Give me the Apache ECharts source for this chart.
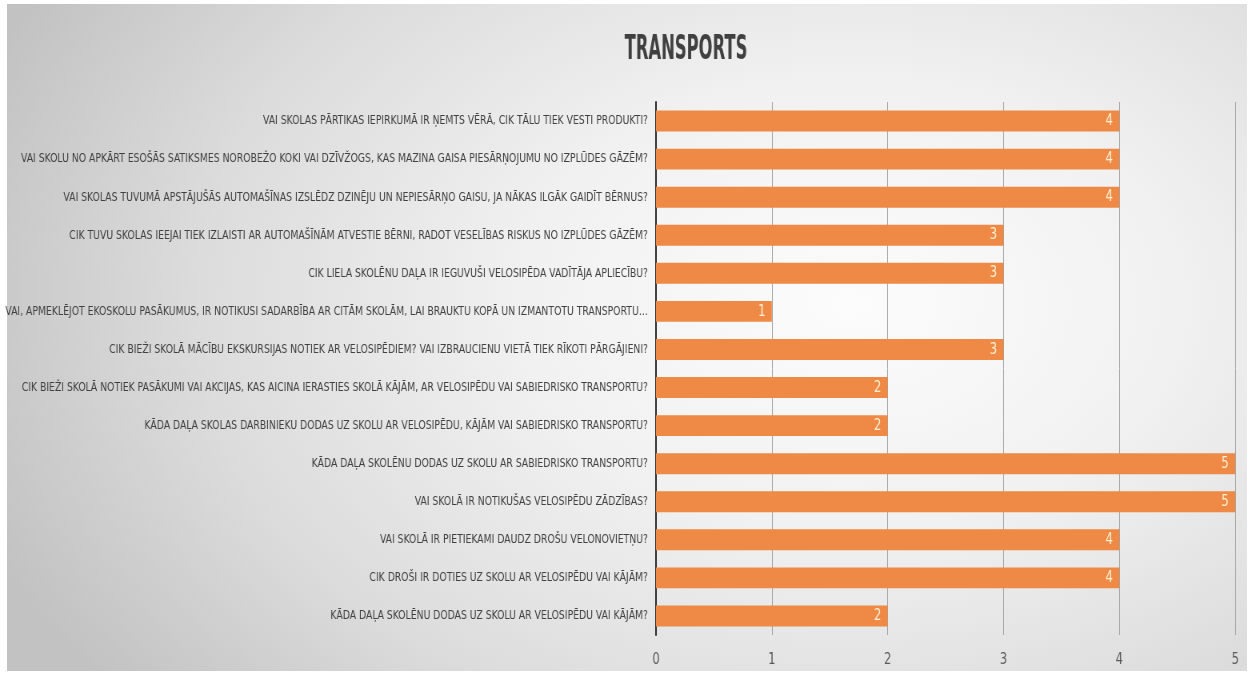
<!DOCTYPE html>
<html>
<head>
<meta charset="utf-8">
<script src="https://cdn.jsdelivr.net/npm/echarts@6/dist/echarts.min.js"></script>
<style>
  html, body { margin: 0; padding: 0; background: #ffffff; overflow: hidden; }
  #panel { position: absolute; left: 7px; top: 4px; width: 1240px; height: 667px;
    background: radial-gradient(ellipse 75% 95% at 68% 45%, #fcfcfc 0%, #f1f1f1 35%, #dcdcdc 70%, #c2c2c2 100%); }
  /* the chart is laid out wider and condensed horizontally to mimic the narrow font of the original */
  #chart { position: absolute; left: 0; top: 0; width: 1565px; height: 675px;
    transform: scaleX(0.8); transform-origin: 0 0; }
</style>
</head>
<body>
<div id="panel"></div>
<div id="chart"></div>
<script>
const titleText = 'TRANSPORTS';
const categories = [
  'VAI SKOLAS PĀRTIKAS IEPIRKUMĀ IR ŅEMTS VĒRĀ, CIK TĀLU TIEK VESTI PRODUKTI?',
  'VAI SKOLU NO APKĀRT ESOŠĀS SATIKSMES NOROBEŽO KOKI VAI DZĪVŽOGS, KAS MAZINA GAISA PIESĀRŅOJUMU NO IZPLŪDES GĀZĒM?',
  'VAI SKOLAS TUVUMĀ APSTĀJUŠĀS AUTOMAŠĪNAS IZSLĒDZ DZINĒJU UN NEPIESĀRŅO GAISU, JA NĀKAS ILGĀK GAIDĪT BĒRNUS?',
  'CIK TUVU SKOLAS IEEJAI TIEK IZLAISTI AR AUTOMAŠĪNĀM ATVESTIE BĒRNI, RADOT VESELĪBAS RISKUS NO IZPLŪDES GĀZĒM?',
  'CIK LIELA SKOLĒNU DAĻA IR IEGUVUŠI VELOSIPĒDA VADĪTĀJA APLIECĪBU?',
  'VAI, APMEKLĒJOT EKOSKOLU PASĀKUMUS, IR NOTIKUSI SADARBĪBA AR CITĀM SKOLĀM, LAI BRAUKTU KOPĀ UN IZMANTOTU TRANSPORTU…',
  'CIK BIEŽI SKOLĀ MĀCĪBU EKSKURSIJAS NOTIEK AR VELOSIPĒDIEM? VAI IZBRAUCIENU VIETĀ TIEK RĪKOTI PĀRGĀJIENI?',
  'CIK BIEŽI SKOLĀ NOTIEK PASĀKUMI VAI AKCIJAS, KAS AICINA IERASTIES SKOLĀ KĀJĀM, AR VELOSIPĒDU VAI SABIEDRISKO TRANSPORTU?',
  'KĀDA DAĻA SKOLAS DARBINIEKU DODAS UZ SKOLU AR VELOSIPĒDU, KĀJĀM VAI SABIEDRISKO TRANSPORTU?',
  'KĀDA DAĻA SKOLĒNU DODAS UZ SKOLU AR SABIEDRISKO TRANSPORTU?',
  'VAI SKOLĀ IR NOTIKUŠAS VELOSIPĒDU ZĀDZĪBAS?',
  'VAI SKOLĀ IR PIETIEKAMI DAUDZ DROŠU VELONOVIETŅU?',
  'CIK DROŠI IR DOTIES UZ SKOLU AR VELOSIPĒDU VAI KĀJĀM?',
  'KĀDA DAĻA SKOLĒNU DODAS UZ SKOLU AR VELOSIPĒDU VAI KĀJĀM?'
];
const values = [4, 4, 4, 3, 3, 1, 3, 2, 2, 5, 5, 4, 4, 2];
const axisMin = 0, axisMax = 5, axisStep = 1;

const FONT = '"DejaVu Sans Condensed", "DejaVu Sans", sans-serif';
const chart = echarts.init(document.getElementById('chart'), null, { renderer: 'canvas' });
chart.setOption({
  backgroundColor: 'transparent',
  animation: false,
  graphic: [{
    type: 'text', x: 857.5, y: 50, scaleX: 0.67, scaleY: 1,
    style: { text: titleText, x: 0, y: 0, textAlign: 'center', textVerticalAlign: 'middle',
      font: 'bold 34px "DejaVu Sans Condensed", "DejaVu Sans", sans-serif', fill: '#404040' }
  }],
  grid: { left: 820, right: 21, top: 102, bottom: 40, containLabel: false, outerBoundsMode: 'none' },
  xAxis: {
    type: 'value', min: axisMin, max: axisMax, interval: axisStep,
    axisLine: { show: false }, axisTick: { show: false },
    splitLine: { show: true, lineStyle: { color: '#a2a2a2', width: 1 } },
    axisLabel: { margin: 17, fontFamily: FONT, fontSize: 16, color: '#595959' }
  },
  yAxis: {
    type: 'category', data: categories, inverse: true,
    axisLine: { show: true, lineStyle: { color: '#2b2b2b', width: 2 } },
    axisTick: { show: false },
    axisLabel: { margin: 10, fontFamily: FONT, fontSize: 12.9, color: '#404040' }
  },
  series: [{
    type: 'bar', data: values, barCategoryGap: '45%',
    itemStyle: { color: '#ee8a45' },
    label: { show: true, position: 'insideRight', distance: 8,
      fontFamily: FONT, fontSize: 16, color: '#fff2d8' }
  }]
});
</script>
</body>
</html>
